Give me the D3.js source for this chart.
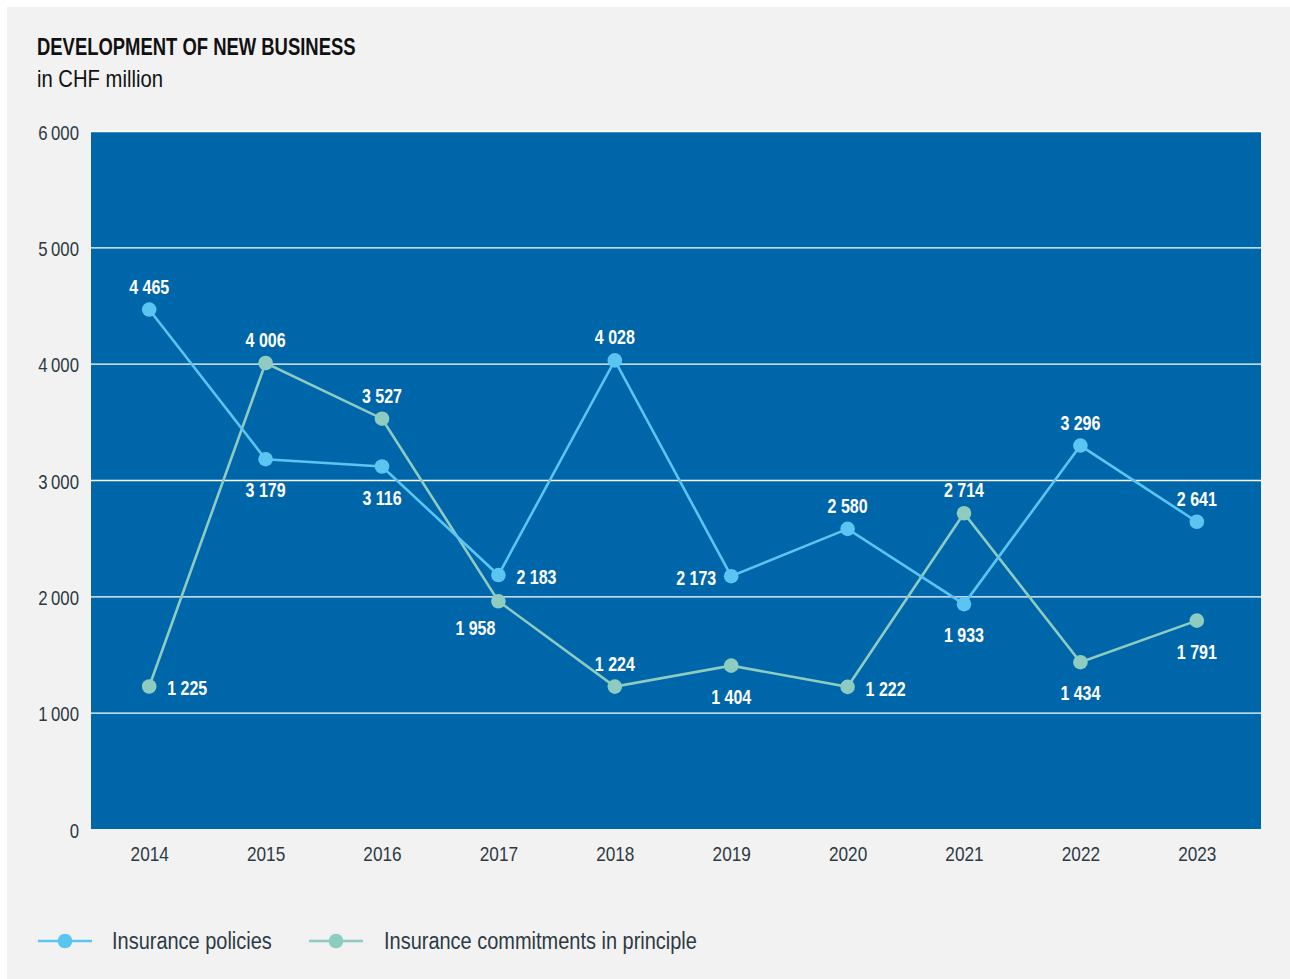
<!DOCTYPE html>
<html>
<head>
<meta charset="utf-8">
<script src="https://cdn.jsdelivr.net/npm/d3@7"></script>
<style>
  html, body { margin: 0; padding: 0; background: #ffffff; }
  svg { display: block; }
  text { font-family: "Liberation Sans", Arial, sans-serif; }
</style>
</head>
<body>
<svg id="chart" width="1290" height="979"></svg>
<script>
// Years on the x axis
const years = ["2014", "2015", "2016", "2017", "2018", "2019", "2020", "2021", "2022", "2023"];
// New business, CHF million
const policies = [4465, 3179, 3116, 2183, 4028, 2173, 2580, 1933, 3296, 2641];
const commitments = [1225, 4006, 3527, 1958, 1224, 1404, 1222, 2714, 1434, 1791];
// Where each value label sits relative to its point
const policyLabelPos = ["above", "below", "below", "right", "above", "left", "above", "below", "above", "above"];
const commitLabelPos = ["right", "above", "above", "belowleft", "above", "below", "right", "above", "below", "below"];
const yTicks = [0, 1000, 2000, 3000, 4000, 5000, 6000];
const seriesNames = ["Insurance policies", "Insurance commitments in principle"];

const COL_PANEL = "#f2f2f2";
const COL_PLOT = "#0066aa";
const COL_POL = "#5bc5f2";
const COL_COM = "#8ecbc0";
const COL_TEXT = "#2d3a44";

// narrow the glyphs horizontally to get a condensed face
function condense(sel, k) {
  sel.each(function () {
    const t = d3.select(this);
    const tx = +t.attr("x") || 0, ty = +t.attr("y") || 0;
    t.attr("x", 0).attr("y", 0).attr("transform", `translate(${tx},${ty}) scale(${k},1)`);
  });
}

const svg = d3.select("#chart");

// light grey card
svg.append("rect").attr("x", 7).attr("y", 7).attr("width", 1283).attr("height", 972).attr("fill", COL_PANEL);

// titles
svg.append("text").attr("x", 37).attr("y", 55)
  .attr("font-size", 23.5).attr("font-weight", "bold").attr("fill", "#111")
  .text("DEVELOPMENT OF NEW BUSINESS").call(condense, 0.785);
svg.append("text").attr("x", 37).attr("y", 87)
  .attr("font-size", 23).attr("fill", "#111")
  .text("in CHF million").call(condense, 0.88);

const plot = { left: 91, right: 1261, top: 131, bottom: 829 };

const x = d3.scalePoint().domain(years).range([plot.left, plot.right - 6]).padding(0.5);
const y = d3.scaleLinear().domain([0, 6000]).range([plot.bottom, plot.top]);

svg.append("rect")
  .attr("x", plot.left).attr("y", plot.top)
  .attr("width", plot.right - plot.left).attr("height", plot.bottom - plot.top)
  .attr("fill", COL_PLOT);

const fmt = d3.formatLocale({ decimal: ".", thousands: "\u2009", grouping: [3], currency: ["", ""] }).format(",d");
const fmtLabel = d3.formatLocale({ decimal: ".", thousands: " ", grouping: [3], currency: ["", ""] }).format(",d");

// y axis: gridlines across the plot, labels to the left
const yAxis = d3.axisLeft(y).tickValues(yTicks).tickFormat(fmt)
  .tickSize(-(plot.right - plot.left)).tickPadding(12);
const gy = svg.append("g").attr("transform", `translate(${plot.left},0)`).call(yAxis);
gy.select(".domain").remove();
gy.selectAll(".tick line").attr("stroke", "#ffffff").attr("stroke-width", 1.3)
  .attr("opacity", d => d === 0 ? 0 : 1);
gy.selectAll(".tick text").attr("fill", COL_TEXT).attr("font-size", 20).attr("dy", "0.4em")
  .attr("font-family", "'Liberation Sans', Arial, sans-serif").call(condense, 0.84);

// x axis labels
const xAxis = d3.axisBottom(x).tickSize(0).tickPadding(17);
const gx = svg.append("g").attr("transform", `translate(0,${plot.bottom})`).call(xAxis);
gx.select(".domain").remove();
gx.selectAll(".tick text").attr("fill", COL_TEXT).attr("font-size", 21)
  .attr("font-family", "'Liberation Sans', Arial, sans-serif").call(condense, 0.82);

const line = d3.line().x((d, i) => x(years[i])).y(d => y(d));

function drawSeries(values, color) {
  svg.append("path").datum(values).attr("d", line)
    .attr("fill", "none").attr("stroke", color).attr("stroke-width", 2.6);
  svg.append("g").selectAll("circle").data(values).join("circle")
    .attr("cx", (d, i) => x(years[i])).attr("cy", d => y(d)).attr("r", 7.3)
    .attr("fill", color);
}
drawSeries(commitments, COL_COM);
drawSeries(policies, COL_POL);

function drawLabels(values, pos) {
  svg.append("g").selectAll("text").data(values).join("text")
    .attr("fill", "#ffffff").attr("font-size", 20).attr("font-weight", "bold")
    .attr("x", (d, i) => {
      const cx = x(years[i]);
      if (pos[i] === "right") return cx + 18;
      if (pos[i] === "left") return cx - 15;
      if (pos[i] === "belowleft") return cx - 23;
      return cx;
    })
    .attr("y", (d, i) => {
      const cy = y(d);
      if (pos[i] === "above") return cy - 16;
      if (pos[i] === "below") return cy + 38;
      if (pos[i] === "belowleft") return cy + 34;
      return cy + 9;
    })
    .attr("text-anchor", (d, i) => pos[i] === "right" ? "start" : pos[i] === "left" ? "end" : "middle")
    .text(d => fmtLabel(d))
    .call(condense, 0.8);
}
drawLabels(policies, policyLabelPos);
drawLabels(commitments, commitLabelPos);

// legend
const legend = [
  { name: seriesNames[0], color: COL_POL, x0: 38, tx: 112 },
  { name: seriesNames[1], color: COL_COM, x0: 309, tx: 384 }
];
const lg = svg.append("g").selectAll("g").data(legend).join("g");
lg.append("line").attr("x1", d => d.x0).attr("x2", d => d.x0 + 54)
  .attr("y1", 941).attr("y2", 941).attr("stroke", d => d.color).attr("stroke-width", 2.6);
lg.append("circle").attr("cx", d => d.x0 + 27).attr("cy", 941).attr("r", 7.3).attr("fill", d => d.color);
lg.append("text").attr("x", d => d.tx).attr("y", 949).attr("font-size", 23.5).attr("fill", COL_TEXT)
  .text(d => d.name).call(condense, 0.85);
</script>
</body>
</html>
